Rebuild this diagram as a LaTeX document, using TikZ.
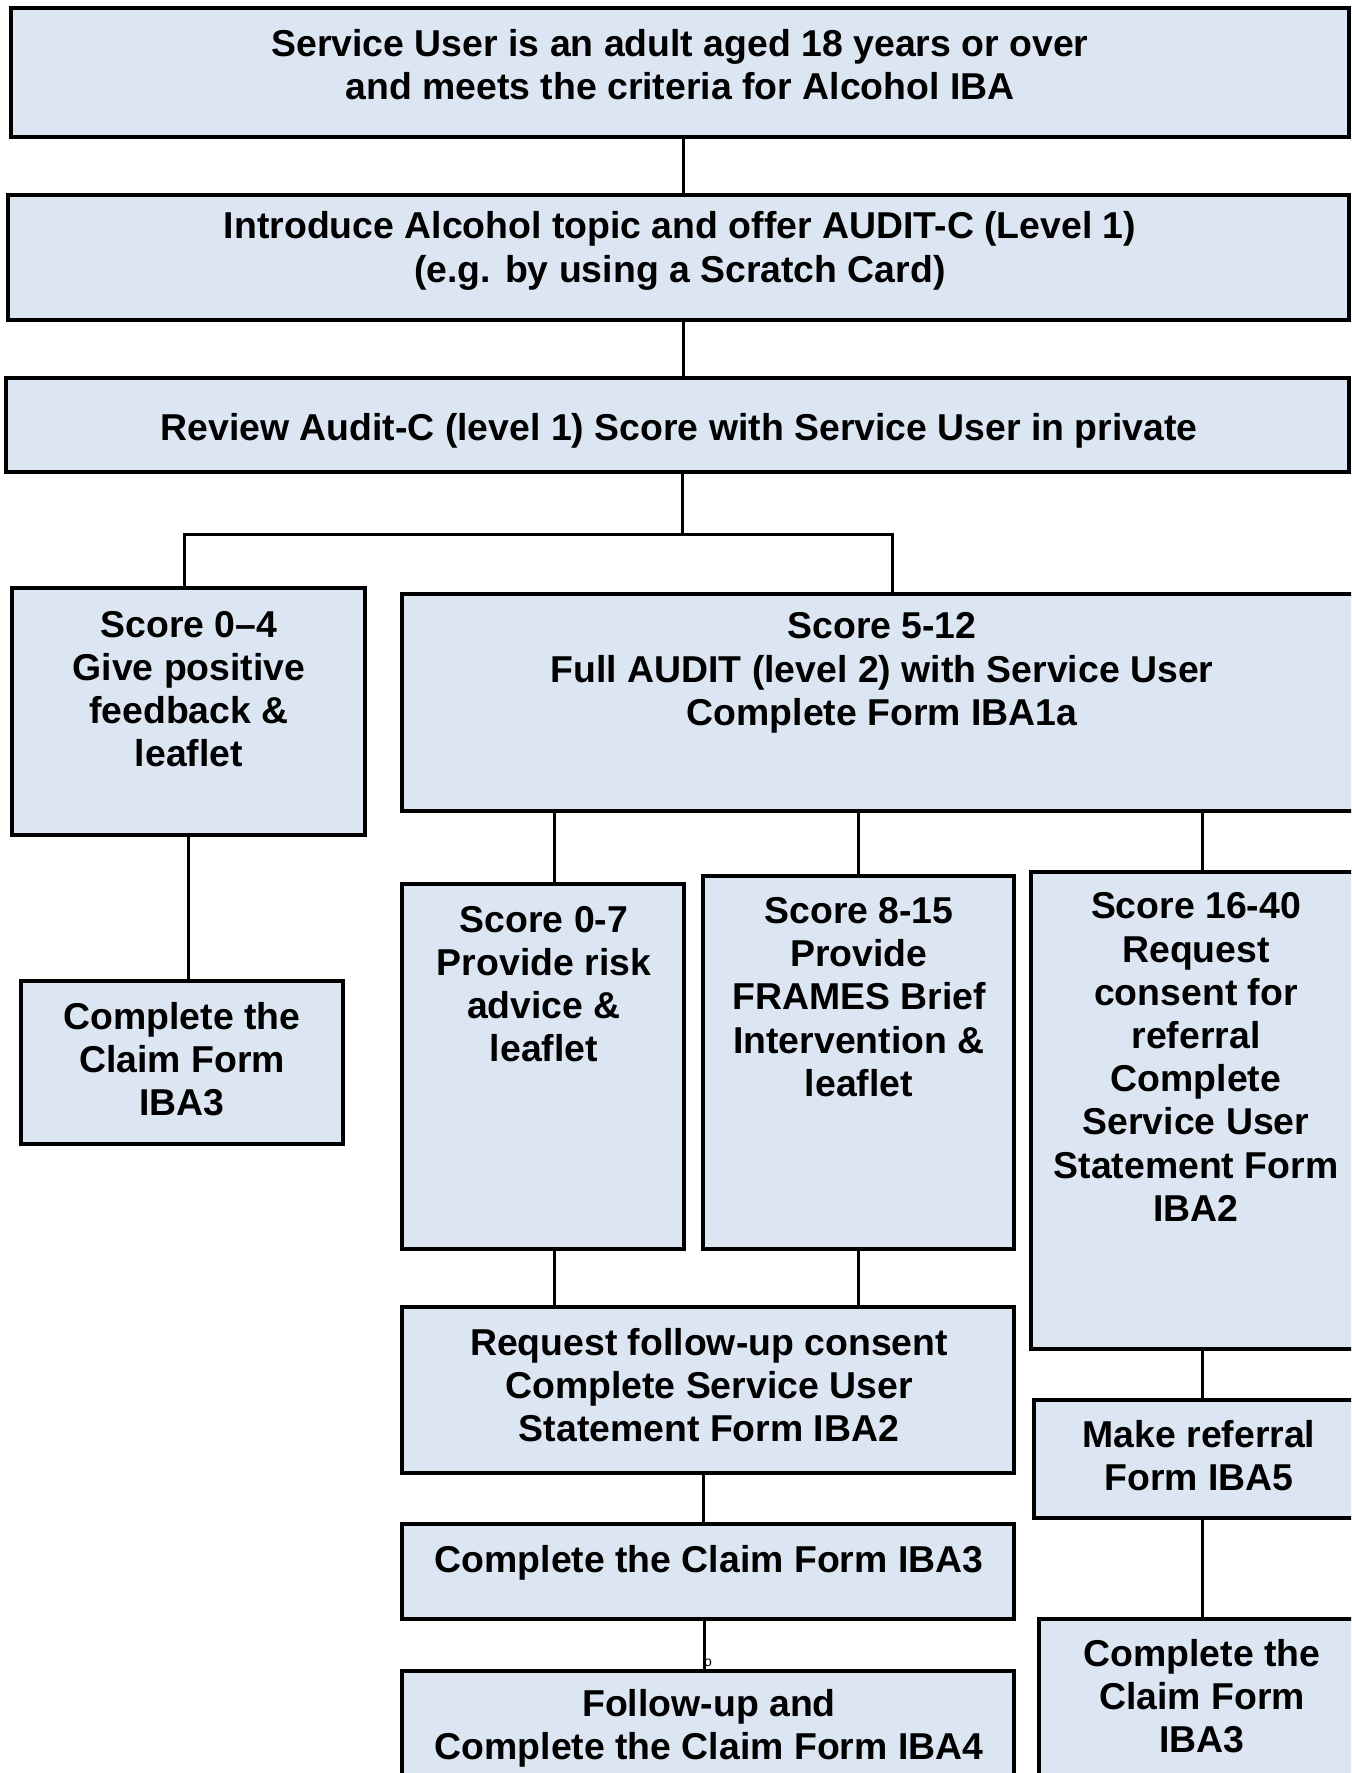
\documentclass[tikz,border=0pt]{standalone}
\usepackage{fontspec}
\setmainfont{Liberation Sans}
\usetikzlibrary{fit}
\definecolor{boxfill}{RGB}{220,230,242}
\tikzset{
  x=0.5pt, y=-0.5pt,
  box/.style={draw=black, fill=boxfill, line width=1.8pt, inner sep=0pt, rectangle},
  txt/.style={align=center, font=\fontsize{18.7}{21.6}\selectfont\bfseries, inner sep=0pt},
  conn/.style={draw=black, line width=1.5pt}
}
\begin{document}
\begin{tikzpicture}
\useasboundingbox (0,0) rectangle (1351,1773);
\clip (0,0) rectangle (1351,1773);
\fill[white] (0,0) rectangle (1351,1773);

% boxes
\node[box, fit={(11,8) (1349,137)}] (b1) {};
\node[box, fit={(8,195) (1349,320)}] (b2) {};
\node[box, fit={(6,378) (1349,472)}] (b3) {};
\node[box, fit={(12,588) (365,835)}] (s04) {};
\node[box, fit={(402,594) (1370,811)}] (s512) {};
\node[box, fit={(21,981) (343,1144)}] (c1) {};
\node[box, fit={(402,884) (684,1249)}] (s07) {};
\node[box, fit={(703,876) (1014,1249)}] (s815) {};
\node[box, fit={(1031,872) (1373,1349)}] (s1640) {};
\node[box, fit={(402,1307) (1014,1473)}] (req) {};
\node[box, fit={(402,1524) (1014,1619)}] (c2) {};
\node[box, fit={(402,1671) (1014,1800)}] (fu) {};
\node[box, fit={(1034,1400) (1370,1518)}] (mr) {};
\node[box, fit={(1039,1619) (1365,1800)}] (c3) {};

% texts
\node[txt] (t1) at (680,65) {Service User is an adult aged 18 years or over\\and meets the criteria for Alcohol IBA};
\node[txt] (t2) at (680,251) {Introduce Alcohol topic and offer AUDIT-C (Level 1)\\(e.g. by using a Scratch Card)};
\node[txt] (t3) at (679,431) {Review Audit-C (level 1) Score with Service User in private};
\node[txt] (t04) at (189,689) {Score 0--4\\Give positive\\feedback \&\\leaflet};
\node[txt] (t512) at (882,673) {Score 5-12\\Full AUDIT (level 2) with Service User\\Complete Form IBA1a};
\node[txt] (tc1) at (182,1059) {Complete the\\Claim Form\\IBA3};
\node[txt] (t07) at (544,984) {Score 0-7\\Provide risk\\advice \&\\leaflet};
\node[txt] (t815) at (859,997) {Score 8-15\\Provide\\FRAMES Brief\\Intervention \&\\leaflet};
\node[txt] (t1640) at (1196,1057) {Score 16-40\\Request\\consent for\\referral\\Complete\\Service User\\Statement Form\\IBA2};
\node[txt] (treq) at (709,1385) {Request follow-up consent\\Complete Service User\\Statement Form IBA2};
\node[txt] (tc2) at (709,1563) {Complete the Claim Form IBA3};
\node[txt] (tfu) at (709,1728) {Follow-up and\\Complete the Claim Form IBA4};
\node[txt] (tmr) at (1199,1456) {Make referral\\Form IBA5};
\node[txt] (tc3) at (1202,1696) {Complete the\\Claim Form\\IBA3};
\node[inner sep=0pt, font=\fontsize{7}{8}\selectfont] (tiny) at (708,1663) {o};

% connector helper coordinates
\coordinate (v683) at (683,0);
\coordinate (jc) at (682,534);
\coordinate (jl) at (184,534);
\coordinate (jr) at (892,534);
\coordinate (v554) at (554,0);
\coordinate (v703) at (703,0);
\coordinate (v704) at (704,0);

% connectors
\draw[conn] (v683 |- b1.south) -- (v683 |- b2.north);
\draw[conn] (v683 |- b2.south) -- (v683 |- b3.north);
\draw[conn] (jc |- b3.south) -- (jc);
\draw[conn] (jl |- s04.north) -- (jl) -- (jr) -- (jr |- s512.north);
\draw[conn] (s04.south) -- (s04.south |- c1.north);
\draw[conn] (v554 |- s512.south) -- (v554 |- s07.north);
\draw[conn] (s815.north |- s512.south) -- (s815.north);
\draw[conn] (s1640.north |- s512.south) -- (s1640.north);
\draw[conn] (v554 |- s07.south) -- (v554 |- req.north);
\draw[conn] (s815.south) -- (s815.south |- req.north);
\draw[conn] (v703 |- req.south) -- (v703 |- c2.north);
\draw[conn] (v704 |- c2.south) -- (v704 |- fu.north);
\draw[conn] (s1640.south) -- (s1640.south |- mr.north);
\draw[conn] (mr.south) -- (mr.south |- c3.north);
\end{tikzpicture}
\end{document}
